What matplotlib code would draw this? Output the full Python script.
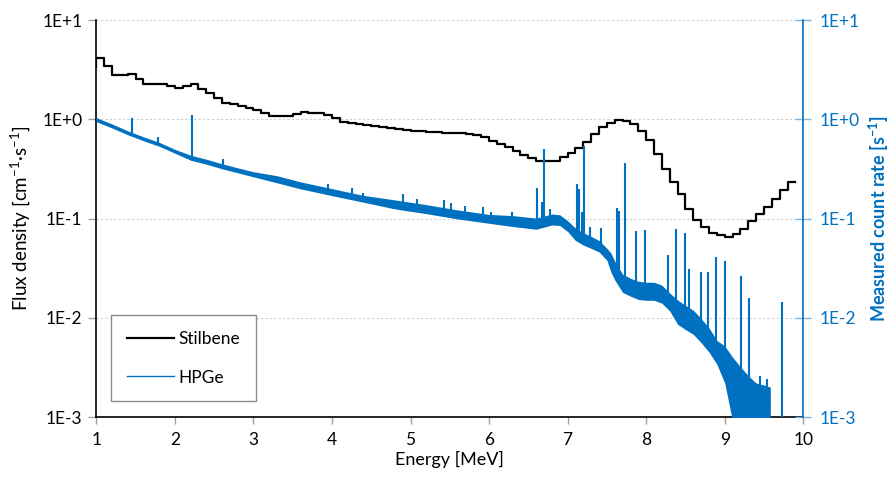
import numpy as np
import matplotlib
matplotlib.use("Agg")
import matplotlib.pyplot as plt
from matplotlib.ticker import FixedLocator, FixedFormatter, NullLocator
from matplotlib.lines import Line2D

plt.rcParams['font.family'] = ['Lato', 'DejaVu Sans']
plt.rcParams['mathtext.fontset'] = 'custom'
plt.rcParams['mathtext.rm'] = 'Lato'
plt.rcParams['mathtext.bf'] = 'Lato:bold'

# ---------------- data ----------------
# Stilbene unfolded flux, 0.1 MeV bins starting at 1.0 MeV
stil_edges = np.round(np.arange(1.0, 9.91, 0.1), 2)
stil_start = 3.34
stil_values = [4.18, 3.44, 2.82, 2.82, 2.85, 2.53, 2.27, 2.27, 2.27, 2.17,
               2.07, 2.15, 2.27, 2.00, 1.83, 1.64, 1.47, 1.42, 1.36, 1.30,
               1.23, 1.17, 1.09, 1.09, 1.09, 1.14, 1.18, 1.17, 1.16, 1.10,
               1.04, 0.94, 0.92, 0.89, 0.87, 0.85, 0.83, 0.81, 0.80, 0.78,
               0.77, 0.76, 0.745, 0.74, 0.735, 0.73, 0.72, 0.71, 0.70, 0.664,
               0.605, 0.56, 0.52, 0.476, 0.44, 0.405, 0.38, 0.378, 0.378, 0.415,
               0.455, 0.51, 0.59, 0.706, 0.837, 0.918, 0.993, 0.96, 0.89, 0.757,
               0.615, 0.444, 0.319, 0.231, 0.175, 0.126, 0.096, 0.082, 0.0716, 0.068,
               0.065, 0.0705, 0.079, 0.095, 0.110, 0.131, 0.159, 0.193, 0.234]

# HPGe continuum: energy, centre, lower and upper edge of the noise band
hpge_E = [1.0, 1.2, 1.4, 1.6, 1.8, 2.0, 2.2, 2.4, 2.6, 2.8, 3.0, 3.3, 3.6, 4.0,
          4.4, 4.8, 5.2, 5.6, 6.0, 6.3, 6.6, 6.8, 6.9, 7.0, 7.1, 7.2, 7.3, 7.4,
          7.5, 7.55, 7.6, 7.7, 7.8, 7.9, 8.0, 8.1, 8.2, 8.3, 8.4, 8.5, 8.6, 8.7,
          8.8, 8.9, 9.0, 9.1, 9.2, 9.3, 9.4, 9.5, 9.58]
hpge_mid = [0.99, 0.856, 0.731, 0.636, 0.56, 0.476, 0.41, 0.374, 0.336, 0.306,
            0.279, 0.249, 0.216, 0.184, 0.158, 0.139, 0.124, 0.110, 0.0994, 0.094,
            0.089, 0.098, 0.096, 0.084, 0.0694, 0.0625, 0.0578, 0.0525, 0.0437, 0.0362,
            0.030, 0.0223, 0.0203, 0.0189, 0.0185, 0.0185, 0.0173, 0.0144, 0.0114, 0.0101,
            0.0090, 0.0074, 0.0060, 0.0045, 0.0034, 0.0026, 0.0021, 0.0016, 0.00145, 0.00138,
            0.00132]
hpge_low = [0.945, 0.818, 0.698, 0.607, 0.535, 0.455, 0.387, 0.353, 0.317, 0.289,
            0.263, 0.229, 0.199, 0.170, 0.146, 0.125, 0.112, 0.099, 0.0895, 0.083,
            0.078, 0.086, 0.085, 0.074, 0.060, 0.054, 0.050, 0.046, 0.038, 0.029,
            0.024, 0.018, 0.0165, 0.0153, 0.015, 0.015, 0.014, 0.0117, 0.0086, 0.0076,
            0.0068, 0.0056, 0.0045, 0.0034, 0.0022, 0.0009, 0.0008, 0.0008, 0.0008, 0.0008,
            0.0008]
hpge_high = [1.04, 0.896, 0.765, 0.666, 0.586, 0.498, 0.435, 0.396, 0.356, 0.324,
             0.296, 0.270, 0.234, 0.200, 0.171, 0.154, 0.138, 0.122, 0.110, 0.107,
             0.101, 0.111, 0.109, 0.095, 0.080, 0.072, 0.066, 0.060, 0.050, 0.045,
             0.037, 0.0275, 0.025, 0.0233, 0.0228, 0.0228, 0.0213, 0.0177, 0.0151, 0.0133,
             0.0119, 0.0098, 0.0079, 0.0059, 0.0052, 0.0040, 0.0032, 0.0026, 0.0022, 0.0021,
             0.0020]

# HPGe gamma lines: energy, peak top, peak base
peak_E = [1.46, 1.72, 1.78, 2.22, 2.61, 3.95, 4.26, 4.39, 4.90, 5.08, 5.42, 5.51,
          5.69, 5.92, 6.03, 6.29, 6.61, 6.67, 6.70, 6.77, 7.12, 7.14, 7.18, 7.21,
          7.28, 7.43, 7.63, 7.65, 7.73, 7.87, 7.98, 8.28, 8.38, 8.50, 8.54, 8.70,
          8.79, 8.89, 9.00, 9.21, 9.31, 9.45, 9.54, 9.73]
peak_top = [1.04, 0.61, 0.67, 1.10, 0.396, 0.221, 0.205, 0.181, 0.178, 0.159, 0.155, 0.142,
            0.133, 0.130, 0.117, 0.117, 0.205, 0.147, 0.496, 0.126, 0.225, 0.200, 0.117, 0.54,
            0.082, 0.080, 0.128, 0.120, 0.366, 0.074, 0.076, 0.043, 0.079, 0.072, 0.031, 0.029,
            0.029, 0.0405, 0.037, 0.0263, 0.0159, 0.0026, 0.0024, 0.0145]
peak_base = [0.70, 0.60, 0.565, 0.405, 0.335, 0.188, 0.166, 0.158, 0.135, 0.130, 0.116, 0.113,
             0.108, 0.101, 0.099, 0.094, 0.089, 0.090, 0.092, 0.096, 0.068, 0.067, 0.064, 0.062,
             0.059, 0.050, 0.027, 0.025, 0.0215, 0.019, 0.0186, 0.015, 0.012, 0.010, 0.0096, 0.0074,
             0.0062, 0.0046, 0.0034, 0.0020, 0.0016, 0.0014, 0.0013, 0.0005]

x_ticks = [1, 2, 3, 4, 5, 6, 7, 8, 9, 10]
y_ticks = [1e-3, 1e-2, 1e-1, 1e0, 1e1]
y_tick_labels = ["1E-3", "1E-2", "1E-1", "1E+0", "1E+1"]

BLUE = "#0070C0"

# ---------------- figure ----------------
fig = plt.figure(figsize=(8.89, 4.78), dpi=100)
ax = fig.add_axes([0.1083, 0.1276, 0.7953, 0.8305])
ax2 = ax.twinx()

for a in (ax, ax2):
    a.set_yscale('log')
    a.set_ylim(1e-3, 1e1)
    a.set_xlim(1, 10)
    a.yaxis.set_major_locator(FixedLocator(y_ticks))
    a.yaxis.set_major_formatter(FixedFormatter(y_tick_labels))
    a.yaxis.set_minor_locator(NullLocator())

ax.set_xticks(x_ticks)
ax.set_xticklabels([str(t) for t in x_ticks])

# grid
ax.grid(True, axis='y', color='#D0D0D0', linestyle=(0, (2, 2)), linewidth=0.8)
ax.set_axisbelow(True)

# spines
for a in (ax, ax2):
    a.spines['top'].set_visible(False)
ax.spines['right'].set_visible(False)
ax2.spines['left'].set_visible(False)
ax2.spines['bottom'].set_visible(False)
ax.spines['left'].set_color('black')
ax.spines['bottom'].set_color('black')
ax.spines['left'].set_linewidth(1.2)
ax.spines['bottom'].set_linewidth(1.2)
ax2.spines['right'].set_color(BLUE)
ax2.spines['right'].set_linewidth(1.2)

ax.tick_params(axis='y', direction='out', length=6, width=1, colors='#A0A0A0',
               labelcolor='black', labelsize=12.5, pad=4)
ax.tick_params(axis='x', direction='out', length=5, width=1, colors='#A0A0A0',
               labelcolor='black', labelsize=12.5, pad=6)
ax2.tick_params(axis='y', direction='inout', length=11, width=1, colors='#7FB3DD',
                labelcolor=BLUE, labelsize=12.5, pad=6)

# stilbene step curve
sx = np.concatenate([[stil_edges[0]], stil_edges])
sy = np.concatenate([[stil_start], stil_values, [stil_values[-1]]])
ax.step(sx, sy, where='post', color='black', linewidth=1.6, label='Stilbene')

# HPGe spectrum
ax2.fill_between(hpge_E, hpge_low, hpge_high, color=BLUE, linewidth=0)
ax2.plot(hpge_E, hpge_mid, color=BLUE, linewidth=1.0)
ax2.vlines(peak_E, peak_base, peak_top, color=BLUE, linewidth=1.5)

# labels
ax.set_xlabel("Energy [MeV]", fontsize=13, labelpad=2)
ax.set_ylabel(r"Flux density [cm$^{-1}$·s$^{-1}$]", fontsize=13.5, labelpad=7)
ax2.set_ylabel(r"Measured count rate [s$^{\mathbf{-1}}$]", fontsize=13,
               color=BLUE, fontweight='bold', labelpad=5)

handles = [Line2D([], [], color='black', linewidth=1.6),
           Line2D([], [], color=BLUE, linewidth=1.0)]
leg = ax2.legend(handles, ['Stilbene', 'HPGe'], loc='lower left',
                 bbox_to_anchor=(0.021, 0.040), borderaxespad=0,
                 fontsize=12.5, labelspacing=1.3, borderpad=0.9,
                 handlelength=2.7, handletextpad=0.3, fancybox=False,
                 framealpha=1, edgecolor='#8C8C8C')
leg.get_frame().set_linewidth(1.0)
leg.set_zorder(10)

fig.savefig("out.png", dpi=100)
